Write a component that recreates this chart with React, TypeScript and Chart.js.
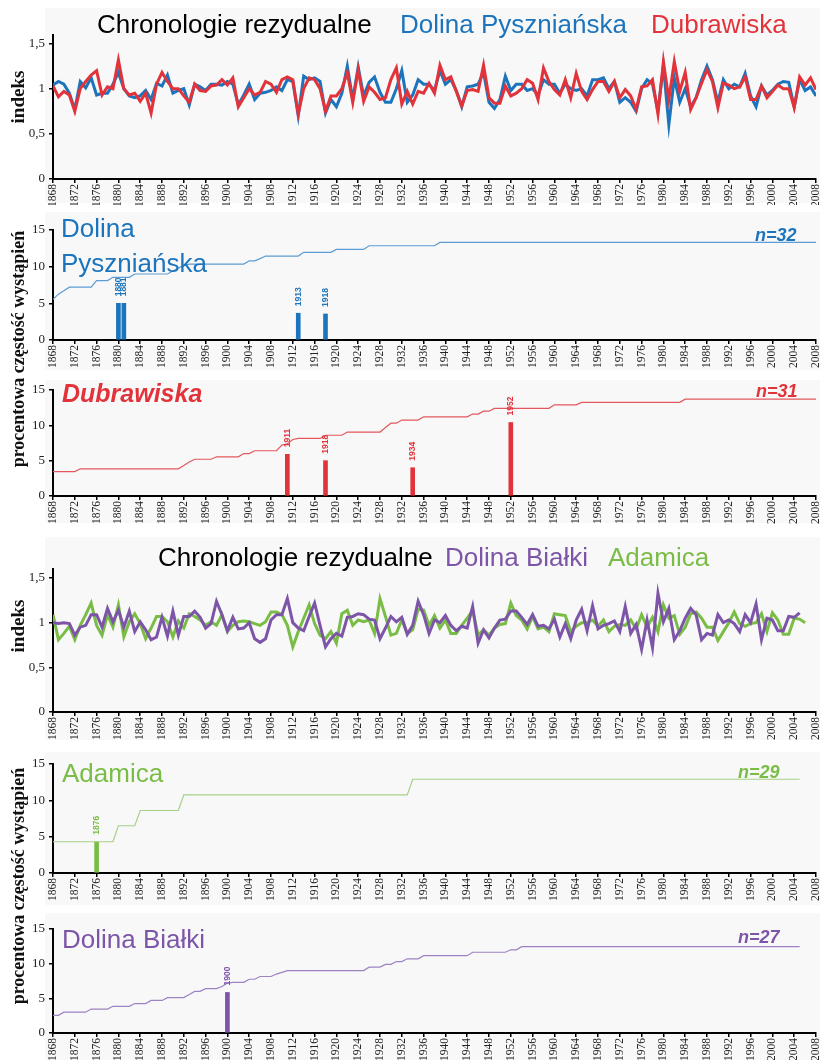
import React, { useEffect, useRef } from 'react';
import { Chart, registerables } from 'chart.js';
Chart.register(...registerables);

const FIRST_YEAR = 1868;
const LAST_YEAR = 2008;
const X_TICK_STEP = 4;

// Residual chronologies (index), one value per year from 1868
const pyszIndex = [
  1.04, 1.08, 1.05, 0.95, 0.77, 1.08, 1.01, 1.12, 0.93, 0.95,
  0.95, 1.05, 1.18, 1.00, 0.92, 0.90, 0.92, 0.98, 0.88, 1.06,
  1.03, 1.15, 0.95, 0.98, 1.00, 0.82, 1.05, 1.02, 0.98, 1.05,
  1.05, 1.04, 1.08, 1.05, 0.82, 0.93, 1.05, 0.88, 0.95, 0.96,
  0.98, 1.02, 0.98, 1.10, 1.08, 0.70, 1.14, 1.10, 1.12, 1.08,
  0.73, 0.88, 0.80, 0.95, 1.25, 0.88, 1.24, 0.92, 1.07, 1.13,
  0.96, 0.85, 0.85, 1.00, 1.20, 0.85, 0.93, 1.10, 1.05, 1.05,
  0.98, 1.20, 1.05, 1.10, 0.98, 0.80, 1.02, 1.03, 1.05, 1.18,
  0.85, 0.78, 0.88, 1.14, 0.98, 1.05, 1.05, 0.98, 1.00, 0.93,
  1.10, 1.05, 1.05, 0.95, 1.05, 1.00, 0.98, 1.00, 0.92, 1.10,
  1.10, 1.12, 1.00, 1.08, 0.85, 0.90, 0.85, 0.75, 1.00, 1.10,
  1.05, 0.75, 1.25, 0.60, 1.12, 0.85, 1.00, 0.80, 0.90, 1.10,
  1.25, 1.10, 0.85, 1.10, 1.00, 1.05, 1.02, 1.17, 0.92, 0.80,
  1.03, 0.93, 0.98, 1.05, 1.08, 1.07, 0.80, 1.10, 0.98, 1.02,
  0.92,
];
const dubrIndex = [
  1.03, 0.91, 0.97, 0.93, 0.75, 1.00, 1.08, 1.15, 1.20, 0.93,
  1.02, 1.00, 1.32, 1.00, 0.93, 0.95, 0.86, 0.95, 0.73, 1.05,
  1.18, 1.08, 1.00, 1.00, 0.92, 0.85, 1.05, 0.98, 0.97, 1.03,
  1.04, 1.10, 1.04, 1.12, 0.80, 0.90, 1.00, 0.93, 0.96, 1.08,
  1.05, 0.96, 1.10, 1.13, 1.10, 0.72, 1.00, 1.12, 1.10, 1.00,
  0.75, 0.92, 0.92, 1.00, 1.18, 0.85, 1.21, 0.86, 1.02, 0.96,
  0.88, 0.90, 1.10, 1.23, 0.83, 0.97, 0.83, 0.97, 0.95, 1.06,
  0.95, 1.26, 1.10, 1.13, 0.97, 0.81, 0.98, 0.99, 0.97, 1.26,
  0.90, 0.84, 0.84, 1.03, 0.92, 0.95, 1.00, 1.10, 1.06, 0.88,
  1.23, 1.08, 0.99, 0.93, 1.10, 0.90, 1.17, 0.97, 0.88, 0.99,
  1.08, 1.08, 0.97, 1.08, 0.90, 0.99, 0.92, 0.77, 1.02, 1.03,
  1.10, 0.72, 1.30, 0.88, 1.30, 0.97, 1.18, 0.77, 0.90, 1.06,
  1.21, 1.08, 0.79, 1.06, 1.04, 1.00, 1.02, 1.13, 0.88, 0.88,
  1.03, 0.90, 0.97, 1.04, 1.00, 1.00, 0.79, 1.13, 1.04, 1.12,
  0.99,
];
const bialIndex = [
  1.00, 0.99, 1.00, 0.99, 0.86, 0.95, 0.97, 1.09, 1.09, 0.95,
  1.16, 1.01, 1.14, 0.95, 1.13, 0.90, 1.01, 0.92, 0.81, 0.84,
  1.06, 0.85, 1.13, 0.86, 1.07, 1.07, 1.13, 1.06, 0.94, 0.99,
  1.24, 1.09, 0.91, 1.06, 0.93, 0.94, 1.00, 0.82, 0.78, 0.82,
  1.03, 1.09, 1.09, 1.27, 1.00, 0.94, 0.91, 1.07, 1.22, 0.97,
  0.73, 0.82, 0.88, 0.85, 1.06, 1.07, 1.10, 1.09, 1.04, 1.03,
  0.82, 0.94, 1.07, 1.01, 1.06, 0.87, 0.97, 1.24, 1.09, 0.88,
  1.03, 1.00, 1.08, 0.97, 0.91, 0.96, 0.94, 1.18, 0.77, 0.92,
  0.83, 0.94, 1.03, 1.04, 1.13, 1.13, 1.06, 0.98, 1.09, 0.96,
  0.97, 0.93, 1.04, 0.84, 0.99, 0.82, 1.03, 1.15, 0.91, 1.19,
  0.93, 0.97, 0.99, 1.02, 0.90, 1.18, 0.88, 0.98, 0.70, 1.03,
  0.72, 1.33, 1.01, 1.16, 0.81, 0.91, 1.05, 1.16, 1.09, 0.81,
  0.88, 0.86, 1.09, 1.00, 1.03, 0.99, 0.90, 1.09, 1.00, 1.21,
  0.81, 1.05, 1.03, 0.91, 0.91, 1.07, 1.06, 1.11,
];
const adamIndex = [
  1.09, 0.81, 0.88, 0.96, 0.81, 0.97, 1.09, 1.22, 0.97, 0.86,
  1.09, 0.95, 1.20, 0.84, 1.01, 1.10, 0.99, 0.82, 0.94, 1.07,
  1.07, 1.01, 0.84, 1.02, 0.94, 1.10, 1.07, 1.03, 0.97, 1.01,
  0.97, 1.09, 0.90, 0.97, 1.01, 1.02, 1.01, 0.99, 0.97, 1.01,
  1.12, 1.12, 1.09, 0.97, 0.73, 0.90, 1.05, 1.20, 0.99, 0.86,
  0.82, 0.90, 0.77, 1.10, 1.14, 0.97, 1.03, 1.01, 1.03, 0.88,
  1.27, 1.07, 0.86, 0.88, 1.03, 0.88, 0.92, 1.15, 1.14, 0.97,
  1.08, 0.94, 1.03, 0.88, 0.88, 0.97, 1.05, 1.14, 0.86, 0.92,
  0.86, 0.94, 0.98, 0.99, 1.22, 1.08, 1.03, 0.93, 1.07, 0.93,
  0.95, 0.90, 1.10, 1.09, 1.08, 0.90, 0.96, 1.00, 1.00, 1.03,
  0.96, 1.03, 0.90, 0.96, 0.98, 0.97, 1.03, 0.93, 1.09, 0.95,
  1.06, 0.90, 1.20, 1.05, 1.08, 0.87, 0.95, 1.10, 1.12, 1.05,
  0.95, 0.95, 0.80, 0.90, 1.00, 1.12, 0.99, 0.96, 0.99, 1.00,
  1.10, 0.90, 1.11, 1.03, 0.87, 0.87, 1.05, 1.04, 1.00,
];

// Cumulative percentage curves (corner points: year, %)
const pyszStepYears = [1868, 1869, 1870, 1871, 1875, 1876, 1878, 1879, 1882, 1883, 1889, 1890, 1891, 1892, 1893, 1903, 1904, 1905, 1906, 1907, 1913, 1914, 1919, 1920, 1925, 1926, 1938, 1939, 2008];
const pyszStepValues = [5.55, 6.25, 6.7, 7.2, 7.2, 8.1, 8.1, 8.55, 8.55, 9.0, 9.0, 9.4, 9.8, 10.2, 10.35, 10.35, 10.8, 10.8, 11.1, 11.45, 11.45, 11.95, 11.95, 12.35, 12.35, 12.85, 12.85, 13.3, 13.3];
const dubrStepYears = [1868, 1872, 1873, 1891, 1892, 1893, 1894, 1897, 1898, 1902, 1903, 1904, 1905, 1909, 1910, 1911, 1912, 1913, 1917, 1918, 1921, 1922, 1928, 1929, 1930, 1931, 1932, 1935, 1936, 1944, 1945, 1946, 1947, 1948, 1949, 1959, 1960, 1964, 1965, 1983, 1984, 2008];
const dubrStepValues = [3.45, 3.45, 3.85, 3.85, 4.3, 4.8, 5.2, 5.2, 5.55, 5.55, 6.0, 6.0, 6.4, 6.4, 7.2, 7.4, 8.0, 8.15, 8.15, 8.6, 8.6, 9.05, 9.05, 9.7, 10.3, 10.3, 10.75, 10.75, 11.2, 11.2, 11.6, 11.6, 12.0, 12.0, 12.4, 12.4, 12.9, 12.9, 13.25, 13.25, 13.7, 13.7];
const adamStepYears = [1868, 1879, 1880, 1883, 1884, 1891, 1892, 1933, 1934, 2005];
const adamStepValues = [4.3, 4.3, 6.5, 6.5, 8.6, 8.6, 10.75, 10.75, 12.9, 12.9];
const bialStepYears = [1868, 1869, 1870, 1874, 1875, 1878, 1879, 1882, 1883, 1885, 1886, 1888, 1889, 1892, 1893, 1894, 1895, 1896, 1898, 1899, 1900, 1901, 1903, 1904, 1905, 1906, 1908, 1909, 1910, 1911, 1925, 1926, 1928, 1929, 1930, 1931, 1932, 1933, 1935, 1936, 1944, 1945, 1951, 1952, 1953, 1954, 2005];
const bialStepValues = [2.55, 2.55, 3.0, 3.0, 3.45, 3.45, 3.85, 3.85, 4.25, 4.25, 4.7, 4.7, 5.1, 5.1, 5.55, 6.0, 6.0, 6.4, 6.4, 6.7, 7.2, 7.3, 7.3, 7.75, 7.75, 8.15, 8.15, 8.5, 8.75, 9.0, 9.0, 9.5, 9.5, 9.9, 9.9, 10.3, 10.3, 10.7, 10.7, 11.15, 11.15, 11.65, 11.65, 12.0, 12.0, 12.45, 12.45];

// Pointer years (bars)
const pyszBarYears = [1880, 1881, 1913, 1918];
const pyszBarValues = [5.0, 5.0, 3.65, 3.55];
const dubrBarYears = [1911, 1918, 1934, 1952];
const dubrBarValues = [5.9, 5.0, 4.0, 10.4];
const adamBarYears = [1876];
const adamBarValues = [4.3];
const bialBarYears = [1900];
const bialBarValues = [5.85];

const indexTicks = [0, 0.5, 1, 1.5];
const percentTicks = [0, 5, 10, 15];

const BLUE = '#1c75bc';
const RED = '#e2333b';
const PURPLE = '#7d55a8';
const GREEN = '#7abd46';
const BLUE_L = '#5d9bd4';
const RED_L = '#e2585c';
const PURPLE_L = '#9d83c2';
const GREEN_L = '#a6cf87';

const SANS = '"Liberation Sans", Arial, sans-serif';
const SERIF = '"Liberation Serif", "Times New Roman", serif';
const W = 822;

const yearSeries = (vals: number[]) => vals.map((v, i) => ({ x: FIRST_YEAR + i, y: v }));
const pairSeries = (xs: number[], ys: number[]) => xs.map((x, i) => ({ x, y: ys[i] }));

const barLabelPlugin = {
  id: 'barYearLabels',
  afterDatasetsDraw(chart: any) {
    const ctx = chart.ctx;
    chart.data.datasets.forEach((ds: any, i: number) => {
      if (ds.type !== 'bar') return;
      const meta = chart.getDatasetMeta(i);
      meta.data.forEach((el: any, j: number) => {
        ctx.save();
        ctx.translate(el.x, el.y - 7);
        ctx.rotate(-Math.PI / 2);
        ctx.font = 'bold 8.5px ' + SANS;
        ctx.fillStyle = ds.backgroundColor;
        ctx.textAlign = 'left';
        ctx.textBaseline = 'middle';
        ctx.fillText(String(ds.data[j].x), 0, 0);
        ctx.restore();
      });
    });
  },
};

type PanelProps = {
  top: number;
  height: number;
  areaTop: number;
  areaBottom: number;
  yMax: number;
  ticks: number[];
  comma?: boolean;
  datasets: any[];
};

function Panel({ top, height, areaTop, areaBottom, yMax, ticks, comma, datasets }: PanelProps) {
  const ref = useRef<HTMLCanvasElement | null>(null);
  useEffect(() => {
    if (!ref.current) return;
    const xAxisH = height - areaBottom;
    const chart = new Chart(ref.current, {
      type: 'line',
      data: { datasets },
      options: {
        animation: false,
        responsive: false,
        maintainAspectRatio: false,
        devicePixelRatio: 1,
        layout: { padding: { top: areaTop, right: 6, left: 0, bottom: 0 } },
        plugins: { legend: { display: false }, tooltip: { enabled: false }, title: { display: false } },
        elements: { point: { radius: 0 } },
        scales: {
          x: {
            type: 'linear',
            min: FIRST_YEAR,
            max: LAST_YEAR,
            offset: false,
            ticks: {
              stepSize: X_TICK_STEP,
              autoSkip: false,
              minRotation: 90,
              maxRotation: 90,
              padding: 1,
              color: '#222',
              font: { family: SERIF, size: 11.5 },
              callback: (v: any) => String(v),
            },
            grid: { offset: false, drawOnChartArea: false, drawTicks: true, tickLength: 4, color: '#000', lineWidth: 1.5 },
            border: { display: true, color: '#000', width: 2 },
            afterFit: (s: any) => {
              s.height = xAxisH;
              s.paddingLeft = 0;
              s.paddingRight = 0;
            },
          },
          y: {
            type: 'linear',
            min: 0,
            max: yMax,
            afterBuildTicks: (s: any) => {
              s.ticks = ticks.map((v) => ({ value: v }));
            },
            ticks: {
              padding: 4,
              color: '#222',
              font: { family: SERIF, size: 13 },
              callback: (v: any) => (comma ? String(v).replace('.', ',') : String(v)),
            },
            grid: { drawOnChartArea: false, drawTicks: true, tickLength: 4, color: '#000', lineWidth: 1.5 },
            border: { display: true, color: '#000', width: 2 },
            afterFit: (s: any) => {
              s.width = 53;
              s.paddingTop = 0;
              s.paddingBottom = 0;
            },
          },
        },
      } as any,
      plugins: [barLabelPlugin],
    });
    return () => chart.destroy();
  }, []);
  return (
    <canvas
      ref={ref}
      width={W}
      height={height}
      style={{ position: 'absolute', left: 0, top, width: W, height, display: 'block' }}
    />
  );
}

const lineDs = (data: any[], color: string, width: number) => ({
  type: 'line',
  data,
  borderColor: color,
  backgroundColor: color,
  borderWidth: width,
  pointRadius: 0,
  tension: 0,
  fill: false,
});
const barDs = (years: number[], values: number[], color: string) => ({
  type: 'bar',
  data: pairSeries(years, values),
  backgroundColor: color,
  borderWidth: 0,
  barThickness: 4,
});

function T({ x, base, size, color, bold, italic, children }: any) {
  return (
    <div
      style={{
        position: 'absolute',
        left: x,
        top: base - 0.8465 * size,
        fontFamily: SANS,
        fontSize: size,
        lineHeight: size + 'px',
        color,
        fontWeight: bold ? 'bold' : 'normal',
        fontStyle: italic ? 'italic' : 'normal',
        whiteSpace: 'nowrap',
      }}
    >
      {children}
    </div>
  );
}

function R({ cx, cy, size, children }: any) {
  return (
    <div
      style={{
        position: 'absolute',
        left: cx,
        top: cy,
        transform: 'translate(-50%, -50%) rotate(-90deg)',
        fontFamily: SERIF,
        fontWeight: 'bold',
        fontSize: size,
        lineHeight: size + 'px',
        color: '#111',
        whiteSpace: 'nowrap',
      }}
    >
      {children}
    </div>
  );
}

const BG = '#f8f8f8';
function Bg({ y0, y1 }: any) {
  return <div style={{ position: 'absolute', left: 45, top: y0, width: 775, height: y1 - y0, background: BG }} />;
}

export default function App() {
  return (
    <div style={{ position: 'absolute', left: 0, top: 0, width: W, height: 1060, background: '#fff', overflow: 'hidden' }}>
      <Bg y0={8} y1={203} />
      <Bg y0={212} y1={370} />
      <Bg y0={380} y1={523} />
      <Bg y0={537} y1={740} />
      <Bg y0={752} y1={905} />
      <Bg y0={913} y1={1060} />

      <Panel
        top={0}
        height={205}
        areaTop={34.5}
        areaBottom={179}
        yMax={1.6}
        ticks={indexTicks}
        comma
        datasets={[lineDs(yearSeries(dubrIndex), RED, 3), lineDs(yearSeries(pyszIndex), BLUE, 3)]}
      />
      <Panel
        top={205}
        height={165}
        areaTop={25}
        areaBottom={135}
        yMax={15}
        ticks={percentTicks}
        datasets={[lineDs(pairSeries(pyszStepYears, pyszStepValues), BLUE_L, 1.2), barDs(pyszBarYears, pyszBarValues, BLUE)]}
      />
      <Panel
        top={370}
        height={155}
        areaTop={20}
        areaBottom={126}
        yMax={15}
        ticks={percentTicks}
        datasets={[lineDs(pairSeries(dubrStepYears, dubrStepValues), RED_L, 1.2), barDs(dubrBarYears, dubrBarValues, RED)]}
      />
      <Panel
        top={525}
        height={215}
        areaTop={44.1}
        areaBottom={187}
        yMax={1.6}
        ticks={indexTicks}
        comma
        datasets={[lineDs(yearSeries(bialIndex), PURPLE, 3), lineDs(yearSeries(adamIndex), GREEN, 3)]}
      />
      <Panel
        top={740}
        height={165}
        areaTop={24}
        areaBottom={133}
        yMax={15}
        ticks={percentTicks}
        datasets={[lineDs(pairSeries(adamStepYears, adamStepValues), GREEN_L, 1.2), barDs(adamBarYears, adamBarValues, GREEN)]}
      />
      <Panel
        top={905}
        height={155}
        areaTop={24}
        areaBottom={128}
        yMax={15}
        ticks={percentTicks}
        datasets={[lineDs(pairSeries(bialStepYears, bialStepValues), PURPLE_L, 1.2), barDs(bialBarYears, bialBarValues, PURPLE)]}
      />

      <T x={97} base={33} size={26} color="#000">Chronologie rezydualne</T>
      <T x={400} base={33} size={26} color={BLUE}>Dolina Pyszniańska</T>
      <T x={651} base={33} size={26} color={RED}>Dubrawiska</T>

      <T x={61} base={237} size={26} color={BLUE}>Dolina</T>
      <T x={61} base={272} size={26} color={BLUE}>Pyszniańska</T>
      <T x={755} base={241} size={18} color={BLUE} bold italic>n=32</T>

      <T x={62} base={402} size={25} color={RED} bold italic>Dubrawiska</T>
      <T x={756} base={397} size={18} color={RED} bold italic>n=31</T>

      <T x={158} base={566} size={26} color="#000">Chronologie rezydualne</T>
      <T x={445} base={566} size={26} color={PURPLE}>Dolina Białki</T>
      <T x={608} base={566} size={26} color={GREEN}>Adamica</T>

      <T x={62} base={782} size={26} color={GREEN}>Adamica</T>
      <T x={738} base={778} size={18} color={GREEN} bold italic>n=29</T>

      <T x={62} base={948} size={26} color={PURPLE}>Dolina Białki</T>
      <T x={738} base={943} size={18} color={PURPLE} bold italic>n=27</T>

      <R cx={17} cy={97} size={19}>indeks</R>
      <R cx={17} cy={626} size={19}>indeks</R>
      <R cx={18} cy={349} size={18}>procentowa częstość wystąpień</R>
      <R cx={18} cy={886} size={18}>procentowa częstość wystąpień</R>
    </div>
  );
}
